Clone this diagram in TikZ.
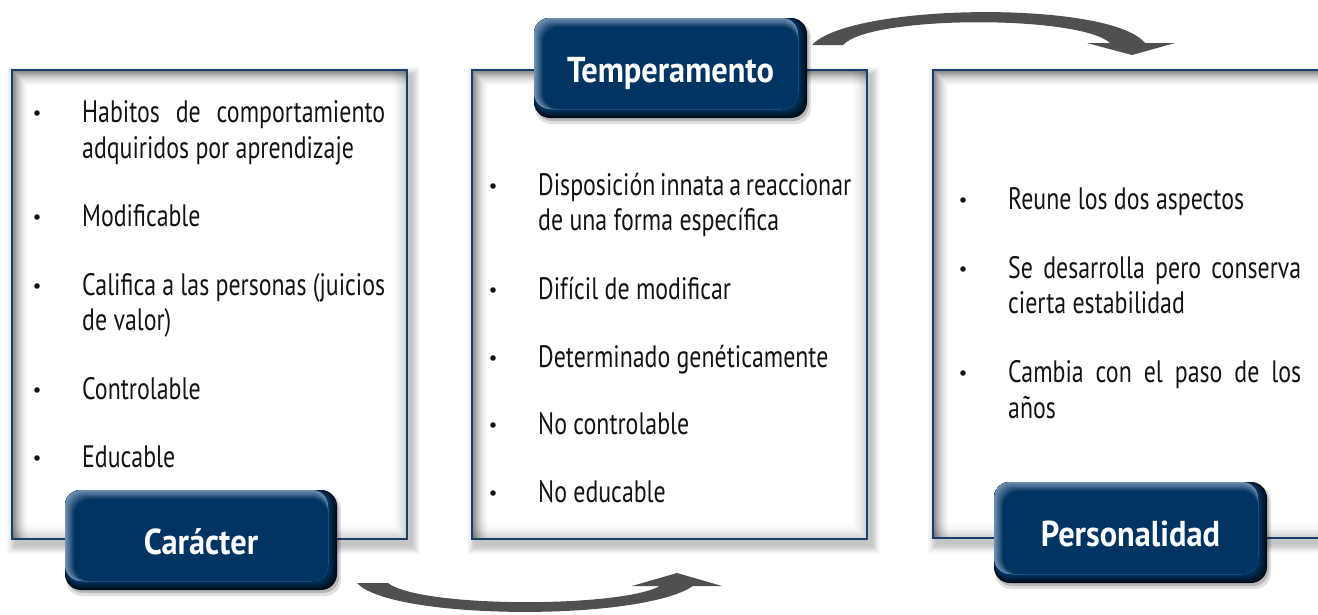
\documentclass[tikz,border=0pt]{standalone}
\usepackage{fontspec}
\newfontfamily\bodyfont[FakeStretch=0.77]{PT Sans}
\newfontfamily\headfont[FakeStretch=0.9]{PT Sans}
\definecolor{bordc}{HTML}{163F6C}
\definecolor{bmain}{HTML}{003462}
\definecolor{blight}{HTML}{7391B0}
\definecolor{bdark}{HTML}{000C18}
\definecolor{arrc}{HTML}{505050}
\definecolor{txt}{HTML}{141414}
\tikzset{
  txtline/.style={anchor=base west, inner sep=0pt, font=\bodyfont\fontsize{31}{36}\selectfont, text=txt},
  bul/.style={circle, fill=txt, inner sep=0pt, minimum size=5.6pt},
  headtxt/.style={anchor=base, font=\headfont\bfseries\fontsize{36}{40}\selectfont, text=white, inner sep=0pt},
  boxborder/.style={draw=bordc, line width=2.2pt},
  arrowshape/.style={fill=arrc},
}
% panel: l t r b
\newcommand\panelbox[4]{%
  \foreach \i in {1,...,10}{\fill[black,opacity=0.022] (#1+4-\i*0.9,#2+6-\i*0.9) rectangle (#3+4+\i*0.9,#4+6+\i*0.9);}
  \fill[white] (#1,#2) rectangle (#3,#4);
  \foreach \i in {0,...,16}{%
    \pgfmathsetmacro\op{0.27*(1-\i/17)^2}
    \draw[black,opacity=\op,line width=1.1pt] (#1+1+\i,#4-1) -- (#1+1+\i,#2+1+\i) -- (#3-1,#2+1+\i);
    \pgfmathsetmacro\opb{0.09*(1-\i/17)^2}
    \draw[black,opacity=\opb,line width=1.1pt] (#1+1,#4-1-\i) -- (#3-1-\i,#4-1-\i) -- (#3-1-\i,#2+1);
  }
  \draw[boxborder] (#1,#2) rectangle (#3,#4);
}
% button: name l t r b text
\newcommand\hbutton[6]{%
  \fill[black,opacity=0.12,rounded corners=16pt] (#2+1,#3+3) rectangle (#4+4,#5+6);
  \fill[black,opacity=0.18,rounded corners=16pt] (#2+2,#3+3) rectangle (#4+2,#5+3);
  \foreach \i in {0,...,8}{%
    \pgfmathtruncatemacro\p{\i*100/8}
    \fill[bmain!\p!bdark,rounded corners=16pt] (#2,#3) rectangle (#4-\i,#5-\i);}
  \foreach \i in {0,...,9}{%
    \pgfmathtruncatemacro\p{\i*100/9}
    \fill[bmain!\p!blight,rounded corners=16pt] (#2+\i,#3+\i) rectangle (#4-9,#5-9);}
  \node[headtxt] (#1) at ({(#2+#4)/2},{(#3+#5)/2+14}) {#6};
}
\begin{document}
\begin{tikzpicture}[x=1pt,y=-1pt]
\useasboundingbox (0,0) rectangle (1318,614);
\fill[white] (0,0) rectangle (1318,614);
\clip (0,0) rectangle (1318,614);

\panelbox{12}{70}{407}{539}
\panelbox{472}{70}{867}{539}
\panelbox{933}{70}{1345}{538}

% Box 1
\node[bul] (b11) at (37,113) {};
\node[txtline] (t11a) at (82,122) {\makebox[303pt][s]{Habitos de comportamiento}};
\node[txtline] (t11b) at (82,158) {adquiridos por aprendizaje};
\node[bul] (b12) at (37,217) {};
\node[txtline] (t12) at (82,226) {Modificable};
\node[bul] (b13) at (37,286) {};
\node[txtline] (t13a) at (82,295) {\makebox[303pt][s]{Califica a las personas (juicios}};
\node[txtline] (t13b) at (82,330) {de valor)};
\node[bul] (b14) at (37,390) {};
\node[txtline] (t14) at (82,399) {Controlable};
\node[bul] (b15) at (37,458) {};
\node[txtline] (t15) at (82,467) {Educable};

% Box 2
\node[bul] (b21) at (493,186) {};
\node[txtline] (t21a) at (538,195) {\makebox[313pt][s]{Disposición innata a reaccionar}};
\node[txtline] (t21b) at (538,230) {de una forma específica};
\node[bul] (b22) at (493,290) {};
\node[txtline] (t22) at (538,299) {Difícil de modificar};
\node[bul] (b23) at (493,358) {};
\node[txtline] (t23) at (538,367) {Determinado genéticamente};
\node[bul] (b24) at (493,425) {};
\node[txtline] (t24) at (538,434) {No controlable};
\node[bul] (b25) at (493,493) {};
\node[txtline] (t25) at (538,502) {No educable};

% Box 3
\node[bul] (b31) at (963,200) {};
\node[txtline] (t31) at (1008,209) {Reune los dos aspectos};
\node[bul] (b32) at (963,269) {};
\node[txtline] (t32a) at (1008,278) {\makebox[293pt][s]{Se desarrolla pero conserva}};
\node[txtline] (t32b) at (1008,313) {cierta estabilidad};
\node[bul] (b33) at (963,373) {};
\node[txtline] (t33a) at (1008,382) {\makebox[293pt][s]{Cambia con el paso de los}};
\node[txtline] (t33b) at (1008,418) {años};

% curved arrows
\fill[arrowshape] (357,583) .. controls (390,620) and (640,622) .. (693,586)
  -- (722,586) -- (677,573) -- (632,586) -- (660,586)
  .. controls (620,608) and (420,608) .. (388,583) -- cycle;
\fill[arrowshape] (812,45) .. controls (850,3) and (1110,0) .. (1145,43)
  -- (1175,43) -- (1132,55) -- (1087,43) -- (1110,43)
  .. controls (1080,15) and (870,15) .. (843,45) -- cycle;

% header buttons
\hbutton{car}{65}{490}{337}{590}{Carácter}
\hbutton{tem}{534}{18}{807}{118}{Temperamento}
\hbutton{per}{994}{482}{1267}{583}{Personalidad}
\end{tikzpicture}
\end{document}
